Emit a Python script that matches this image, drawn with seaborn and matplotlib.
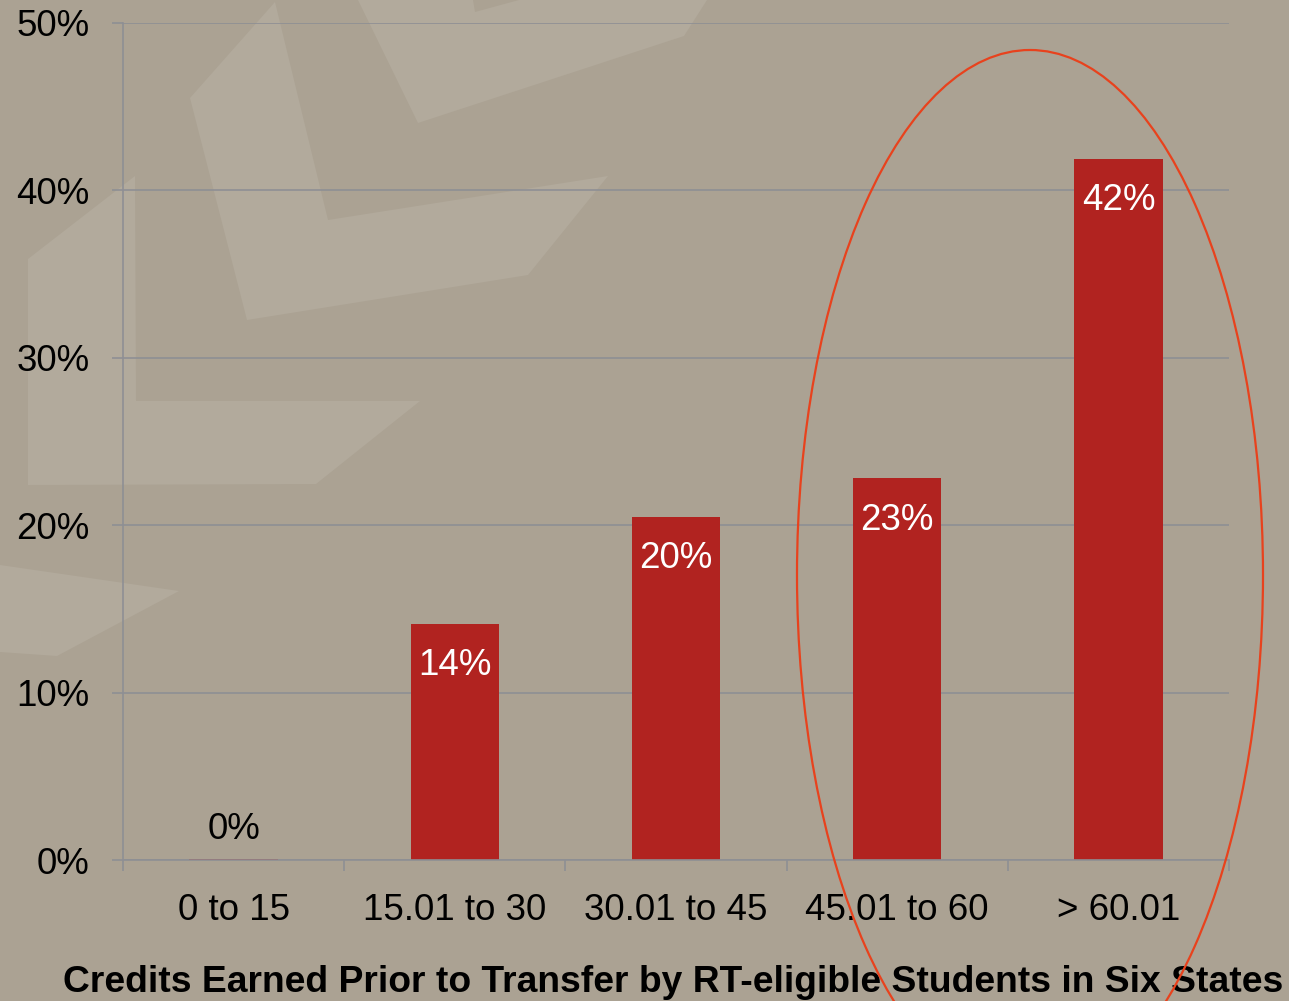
import matplotlib
matplotlib.use("Agg")
import matplotlib.pyplot as plt
import seaborn as sns
import pandas as pd
from matplotlib.patches import Polygon, Ellipse
from matplotlib.ticker import FixedLocator

categories = ["0 to 15", "15.01 to 30", "30.01 to 45", "45.01 to 60", "> 60.01"]
values = [0.05, 14.1, 20.5, 22.8, 41.9]
value_labels = ["0%", "14%", "20%", "23%", "42%"]
y_ticks = [0, 10, 20, 30, 40, 50]
y_tick_labels = ["0%", "10%", "20%", "30%", "40%", "50%"]
title = "Credits Earned Prior to Transfer by RT-eligible Students in Six States"

W, H = 1289, 1001
BG = "#aba293"
LIGHT = "#b2aa9c"
BAR = "#b12320"
GRID = "#8e8f94"
ELL = "#e8421d"

sns.set_theme(style="white")
plt.rcParams["font.family"] = ["Liberation Sans", "DejaVu Sans"]

fig = plt.figure(figsize=(W / 100, H / 100), dpi=100)
fig.patch.set_facecolor(BG)


def fp(pts):
    return [(x / W, 1 - y / H) for x, y in pts]


shapes = [
    [(190, 98), (275, 2), (328, 220), (608, 176), (528, 275), (247, 320)],
    [(358, 0), (418, 123), (684, 36), (707, 0)],
    [(28, 259), (135, 176), (136, 401), (420, 401), (316, 484), (28, 485)],
    [(0, 565), (179, 591), (57, 656), (0, 652)],
]
for s in shapes:
    fig.add_artist(Polygon(fp(s), closed=True, transform=fig.transFigure,
                           facecolor=LIGHT, edgecolor="none", zorder=-10))
fig.add_artist(Polygon(fp([(473, 0), (475, 12), (519, 0)]), closed=True,
                       transform=fig.transFigure, facecolor=BG,
                       edgecolor="none", zorder=-9))

ax = fig.add_axes([123 / W, 1 - 860 / H, (1229 - 123) / W, (860 - 23) / H])
ax.set_facecolor("none")

df = pd.DataFrame({"cat": categories, "val": values})
sns.barplot(data=df, x="cat", y="val", color=BAR, saturation=1, width=0.4,
            ax=ax, zorder=3, edgecolor="none", linewidth=0)

ax.set_ylim(0, 50)
ax.set_xlim(-0.5, len(categories) - 0.5)
ax.set_yticks(y_ticks)
ax.set_yticklabels(y_tick_labels)
ax.yaxis.grid(True, color=GRID, linewidth=1.2)
ax.set_axisbelow(True)
ax.set_xlabel("")
ax.set_ylabel("")

for sp in ["top", "right"]:
    ax.spines[sp].set_visible(False)
for sp in ["left", "bottom"]:
    ax.spines[sp].set_color(GRID)
    ax.spines[sp].set_linewidth(1.2)
    ax.spines[sp].set_zorder(4)

ax.tick_params(axis="y", which="major", length=8, width=1.2, color=GRID,
               pad=16, labelsize=26.5, labelcolor="black", left=True)
ax.tick_params(axis="x", which="major", length=0, pad=24, labelsize=26.5,
               labelcolor="black")
ax.xaxis.set_minor_locator(FixedLocator([i - 0.5 for i in range(len(categories) + 1)]))
ax.tick_params(axis="x", which="minor", length=8, width=1.2, color=GRID,
               bottom=True)

for i, (v, lab) in enumerate(zip(values, value_labels)):
    if v < 5:
        ax.text(i, v + 1.8, lab, ha="center", va="center", fontsize=26.5,
                color="black", zorder=5)
    else:
        ax.text(i, v - 2.5, lab, ha="center", va="center", fontsize=26.5,
                color="white", zorder=5)

ell = Ellipse((1030 / W, 1 - 575 / H), 466 / W, 1050 / H,
              transform=fig.transFigure, facecolor="none", edgecolor=ELL,
              linewidth=1.6, zorder=10)
fig.add_artist(ell)

t = fig.text(673 / W, 1 - 982 / H, title, ha="center", va="center",
             fontsize=26, fontweight="bold", color="black")
fig.canvas.draw()
bb = t.get_window_extent()
t.set_fontsize(26 * 1220 / bb.width)

fig.savefig("out.png", dpi=100, facecolor=BG)
